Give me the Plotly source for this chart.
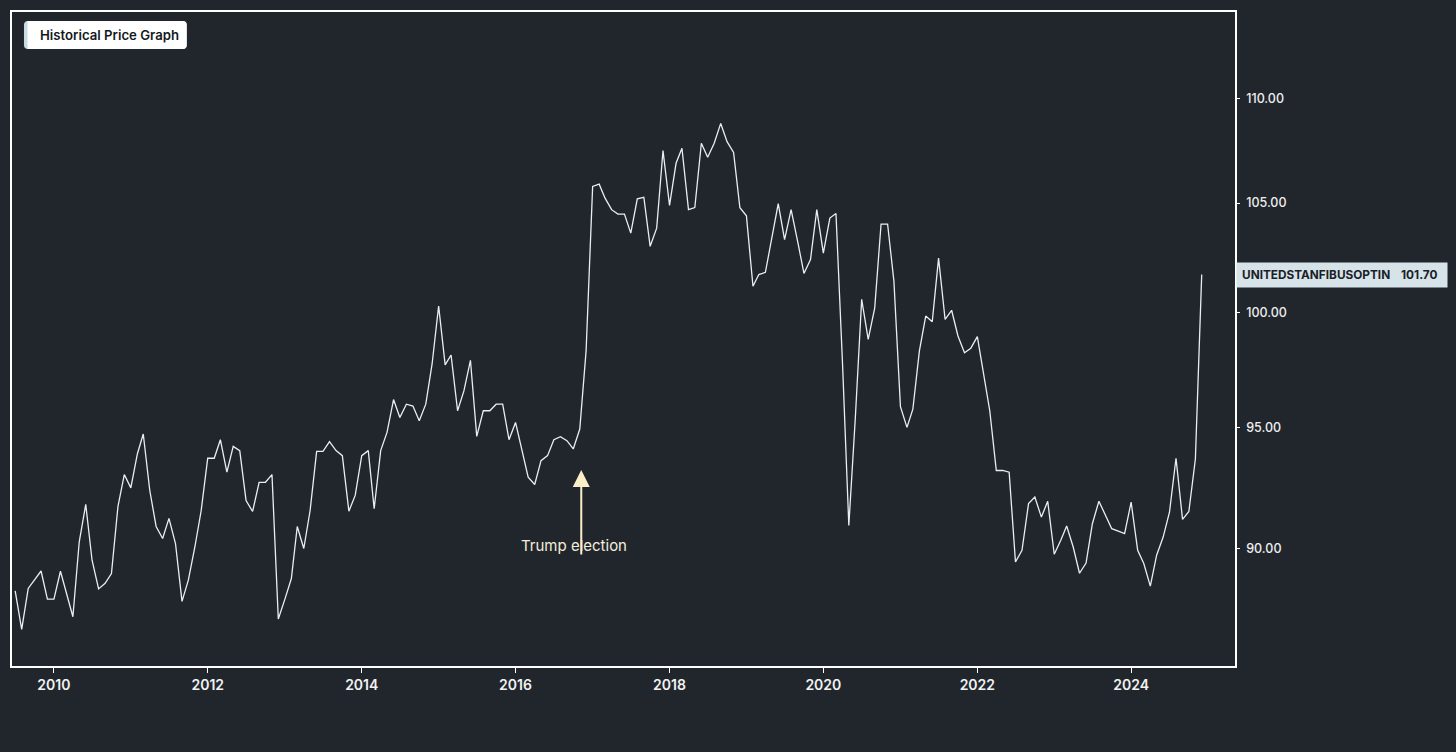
import math
import pandas as pd
import plotly.graph_objects as go

# monthly closing values, Jul 2009 .. Dec 2024
start_month = '2009-07-01'
prices = [
    88.30, 86.80, 88.40, 88.73, 89.09, 87.98,                                        # 2009
    87.98, 89.08, 88.17, 87.29, 90.25, 91.78, 89.52, 88.38, 88.60, 88.99, 91.70, 93.01,  # 2010
    92.46, 93.87, 94.71, 92.35, 90.88, 90.39, 91.21, 90.19, 87.89, 88.73, 90.05, 91.53,  # 2011
    93.69, 93.69, 94.47, 93.11, 94.19, 94.01, 91.94, 91.49, 92.69, 92.69, 93.01, 87.20,  # 2012
    87.97, 88.79, 90.88, 89.99, 91.53, 93.98, 93.98, 94.39, 94.01, 93.80, 91.50, 92.15,  # 2013
    93.80, 94.01, 91.60, 94.01, 94.78, 96.18, 95.41, 95.98, 95.90, 95.27, 95.98, 97.72,  # 2014
    100.28, 97.68, 98.11, 95.70, 96.55, 97.88, 94.61, 95.70, 95.70, 95.98, 95.98, 94.47,  # 2015
    95.20, 94.01, 92.90, 92.60, 93.59, 93.80, 94.47, 94.60, 94.43, 94.08, 94.92, 98.29,  # 2016
    105.78, 105.89, 105.23, 104.69, 104.48, 104.48, 103.60, 105.20, 105.27, 102.99, 103.83, 107.49,  # 2017
    104.89, 106.88, 107.60, 104.69, 104.79, 107.84, 107.17, 107.84, 108.80, 107.92, 107.40, 104.78,  # 2018
    104.40, 101.17, 101.70, 101.80, 103.37, 104.97, 103.30, 104.69, 103.22, 101.75, 102.38, 104.69,  # 2019
    102.68, 104.30, 104.51, 97.76, 90.92, 95.41, 100.58, 98.80, 100.20, 104.02, 104.02, 101.40,  # 2020
    95.87, 94.99, 95.77, 98.29, 99.83, 99.58, 102.45, 99.68, 100.09, 98.95, 98.21, 98.41,  # 2021
    98.92, 97.27, 95.70, 93.18, 93.18, 93.11, 89.45, 89.92, 91.81, 92.08, 91.26, 91.91,  # 2022
    89.76, 90.32, 90.90, 90.05, 89.00, 89.41, 90.99, 91.91, 91.33, 90.79, 90.69, 90.59,  # 2023
    91.87, 89.92, 89.39, 88.49, 89.72, 90.45, 91.46, 93.69, 91.17, 91.49, 93.66, 101.70,  # 2024
]
dates = pd.date_range(start_month, periods=len(prices), freq='MS')

series_name = 'UNITEDSTANFIBUSOPTIN'
chart_title = 'Historical Price Graph'
event_date = '2016-11-08'
event_label = 'Trump election'
y_ticks = [90, 95, 100, 105, 110]
x_ticks = ['2010-01-01', '2012-01-01', '2014-01-01', '2016-01-01',
           '2018-01-01', '2020-01-01', '2022-01-01', '2024-01-01']
x_tick_text = ['2010', '2012', '2014', '2016', '2018', '2020', '2022', '2024']

BG = '#21262d'
FONT = 'Inter'

# plot area in pixels (used to place the decorative boxes)
W, H = 1456, 752
L, R, T, B = 10, 221, 10, 86
PW, PH = W - L - R, H - T - B


def px(x):
    return (x - L) / PW


def py(y):
    return (H - B - y) / PH


def rounded(x0, y0, x1, y1, r, round_left=True):
    if round_left:
        start = f'M{px(x0 + r)},{py(y0)}'
        left = (f'L{px(x0 + r)},{py(y1)} Q{px(x0)},{py(y1)} {px(x0)},{py(y1 - r)} '
                f'L{px(x0)},{py(y0 + r)} Q{px(x0)},{py(y0)} {px(x0 + r)},{py(y0)}')
    else:
        start = f'M{px(x0)},{py(y0)}'
        left = f'L{px(x0)},{py(y1)} L{px(x0)},{py(y0)}'
    return (f'{start} L{px(x1 - r)},{py(y0)} Q{px(x1)},{py(y0)} {px(x1)},{py(y0 + r)} '
            f'L{px(x1)},{py(y1 - r)} Q{px(x1)},{py(y1)} {px(x1 - r)},{py(y1)} {left} Z')


fig = go.Figure()
fig.add_trace(go.Scatter(x=dates, y=prices, mode='lines', name=series_name,
                         line=dict(color='#e9eef2', width=1.3), showlegend=False))

# title chip, top left
fig.add_shape(type='path', xref='paper', yref='paper', path=rounded(22, 19, 185, 47, 4),
              fillcolor='#c9dbe2', line=dict(width=0))
fig.add_shape(type='path', xref='paper', yref='paper', path=rounded(25.5, 19, 185, 47, 4, False),
              fillcolor='#ffffff', line=dict(width=0))
fig.add_annotation(xref='paper', yref='paper', x=px(36), y=py(33), xanchor='left', yanchor='middle',
                   text=chart_title, showarrow=False,
                   font=dict(family=FONT, size=13.2, color='#15191e', weight=600))

# last value label on the price axis
last = prices[-1]
fig.add_annotation(xref='paper', yref='y', x=px(1236), y=math.log10(last), xanchor='left',
                   yanchor='middle', text=series_name, showarrow=False, align='left',
                   width=200, borderpad=5, bgcolor='#d6e4ea',
                   font=dict(family=FONT, size=11.8, color='#1b2027', weight=700))
fig.add_annotation(xref='paper', yref='y', x=px(1439), y=math.log10(last), xanchor='right',
                   yanchor='middle', text=f'{last:.2f}', showarrow=False,
                   font=dict(family=FONT, size=11.8, color='#1b2027', weight=700))

# event marker
fig.add_annotation(x=event_date, y=math.log10(93.2), text='', showarrow=True,
                   ax=0, ay=86, arrowhead=2, arrowsize=1.7, arrowwidth=2, arrowcolor='#fbefc9')
fig.add_annotation(x='2016-10-05', y=math.log10(90.12), text=event_label, showarrow=False,
                   font=dict(family=FONT, size=15, color='#f4eedb'))

fig.update_xaxes(range=['2009-06-16', '2025-05-08'], tickvals=x_ticks, ticktext=x_tick_text,
                 showgrid=False, zeroline=False, showline=True, mirror=True,
                 linecolor='#ffffff', linewidth=1.5, ticks='outside', ticklen=5,
                 tickcolor='#ffffff', tickwidth=1,
                 tickfont=dict(family=FONT, size=14, color='#f2f2f2', weight=600))
fig.update_yaxes(type='log', range=[math.log10(85.39), math.log10(114.35)], side='right',
                 tickvals=y_ticks, ticktext=[f'{v:.2f}' for v in y_ticks],
                 showgrid=False, zeroline=False, showline=True, mirror=True,
                 linecolor='#ffffff', linewidth=1.5, ticks='outside', ticklen=3,
                 tickcolor='#ffffff', tickwidth=1, ticklabelstandoff=4,
                 tickfont=dict(family=FONT, size=12.5, color='#eeeeee', weight=500))

fig.update_layout(width=W, height=H, paper_bgcolor=BG, plot_bgcolor=BG,
                  margin=dict(l=L, r=R, t=T, b=B), font=dict(family=FONT, color='#ffffff'))

# drop the page margin so the figure fills the window
fig.write_html('out.html', config={'displayModeBar': False},
               post_script=f"document.body.style.margin='0';"
                           f"document.body.style.background='{BG}';")
